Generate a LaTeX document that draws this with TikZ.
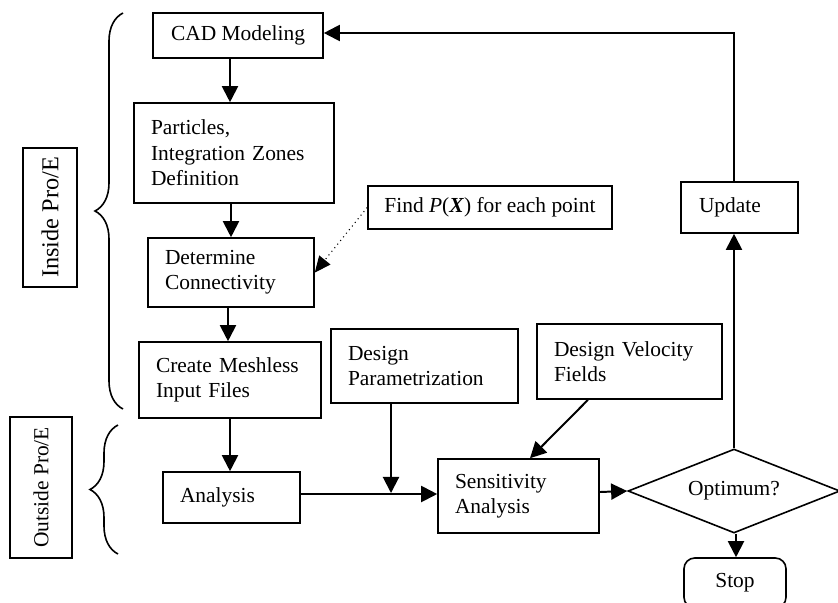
\documentclass[tikz,border=0pt]{standalone}
\usepackage{fontspec}
\setmainfont{Liberation Serif}
\usetikzlibrary{arrows.meta,shapes.geometric,decorations.pathreplacing,calc}
\newlength\pxu
\setlength\pxu{0.56pt}
\begin{document}
\begin{tikzpicture}[x=0.56pt,y=-0.56pt,
  every node/.style={font=\fontsize{12}{14.2}\selectfont},
  cbox/.style 2 args={draw,line width=0.9pt,minimum width=#1\pxu,minimum height=#2\pxu,inner sep=0pt,align=center},
  lbox/.style 2 args={draw,line width=0.9pt,text width=#1\pxu,minimum height=#2\pxu,inner xsep=17\pxu,inner ysep=0pt,align=left},
  arr/.style={line width=1.1pt,-{Triangle[length=9pt,width=9pt]}},
  dotarr/.style={line width=0.6pt,dotted,-{Triangle[length=9pt,width=8pt]}},
  brc/.style={line width=0.9pt,decorate,decoration={brace,amplitude=28\pxu}}]
\useasboundingbox (0,0) rectangle (838,602);

% nodes
\node[cbox={170}{45}] (cad) at (238,35.5) {CAD Modeling};
\node[lbox={166}{100}] (part) at (234,153) {Particles,\\Integration Zones\\Definition};
\node[lbox={132}{69}] (det) at (231,272.5) {Determine\\Connectivity};
\node[cbox={244}{43}] (find) at (490,207.5) {Find \textit{P}(\textbf{\textit{X}}) for each point};
\node[lbox={148}{76}] (cre) at (230,380) {Create Meshless\\Input Files};
\node[lbox={103}{51}] (ana) at (231.5,497.5) {Analysis};
\node[lbox={153}{74}] (dp) at (424.5,366) {Design\\Parametrization};
\node[lbox={127}{74}] (sens) at (518.5,496) {Sensitivity\\Analysis};
\node[lbox={151}{75}] (dvf) at (629.5,361.5) {Design Velocity\\Fields};
\node[lbox={81}{51},inner xsep=18\pxu] (upd) at (739.5,207.5) {Update};
\node[draw,line width=0.9pt,diamond,aspect=2.5,inner sep=0pt,minimum width=212\pxu,minimum height=84\pxu] (opt) at (734,491) {Optimum?};
\node[cbox={102}{50},rounded corners=6pt] (stop) at (735,583) {Stop};
\node[cbox={139}{54},rotate=90,font=\fontsize{13.6}{16}\selectfont] (inside) at (50,217.5) {Inside Pro/E};
\node[cbox={141}{62},rotate=90] (outside) at (41,487.5) {Outside Pro/E};

% column coordinates
\coordinate (c1) at (230,0);
\coordinate (c2) at (231,0);
\coordinate (c3) at (228,0);
\coordinate (c4) at (230,0);
\coordinate (c5) at (391,0);
\coordinate (c6) at (588,0);
\coordinate (c7) at (530,0);
\coordinate (c8) at (734,0);
\coordinate (c9) at (736,0);
\coordinate (rowtop) at (0,33);
\coordinate (rowmid) at (0,494);
\coordinate (rowdp) at (0,493);
\coordinate (rowopt) at (0,492);

% connectors
\draw[arr] (cad.south -| c1) -- (part.north -| c1);
\draw[arr] (part.south -| c2) -- (det.north -| c2);
\draw[dotarr] (find.west) -- (det.east);
\draw[arr] (det.south -| c3) -- (cre.north -| c3);
\draw[arr] (cre.south -| c4) -- (ana.north -| c4);
\draw[arr] (ana.east |- rowmid) -- (sens.west |- rowmid);
\draw[arr] (dp.south -| c5) -- (c5 |- rowdp);
\draw[arr] (dvf.south -| c6) -- (sens.north -| c7);
\draw[arr] (sens.east |- rowopt) -- (opt.west);
\draw[arr] (opt.north -| c8) -- (upd.south -| c8);
\coordinate (corner) at (c8 |- rowtop);
\draw[arr] (upd.north -| c8) -- (corner) -- (cad.east |- rowtop);
\draw[arr] (opt.south -| c9) -- (stop.north -| c9);

% braces
\coordinate (ib1) at (123,409);
\coordinate (ib2) at (123,13);
\coordinate (ob1) at (118,554);
\coordinate (ob2) at (118,425);
\draw[brc] (ib1) -- (ib2);
\draw[brc] (ob1) -- (ob2);
\end{tikzpicture}
\end{document}
